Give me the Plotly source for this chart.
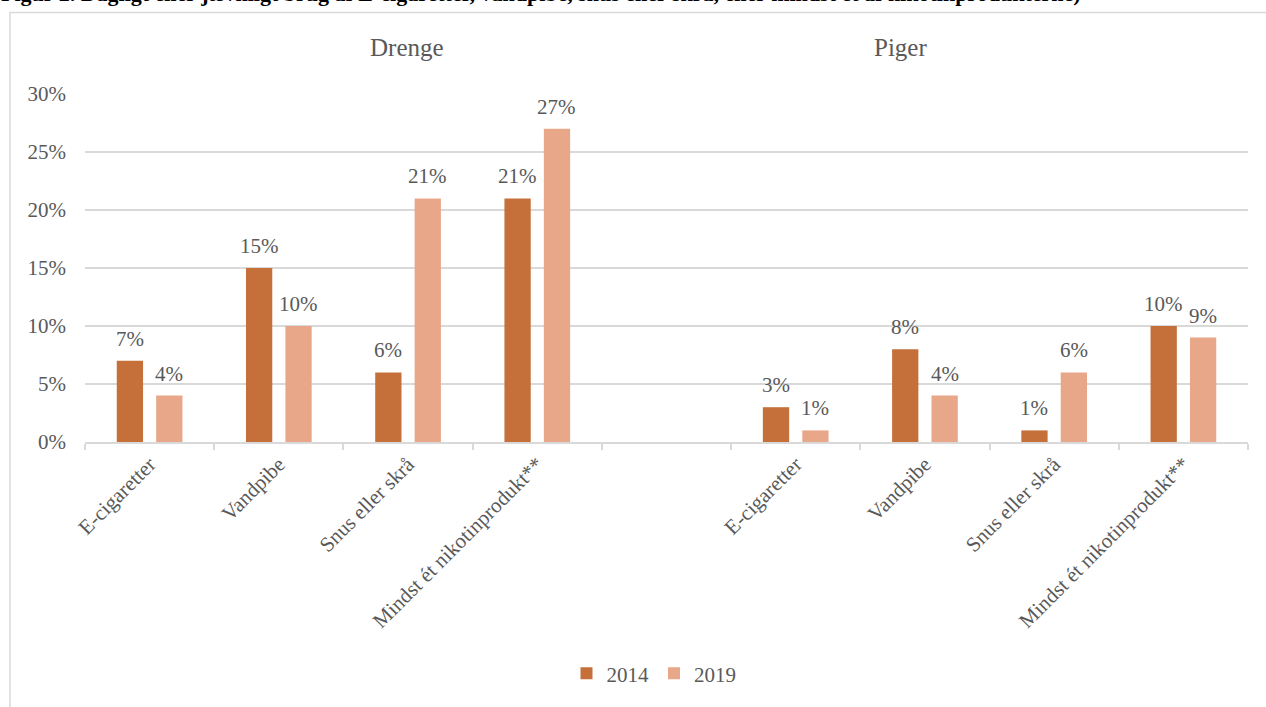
import plotly.graph_objects as go

# ---- data ----
groups = ["Drenge", "Piger"]
products = ["E-cigaretter", "Vandpibe", "Snus eller skrå", "Mindst ét nikotinprodukt**"]
years = ["2014", "2019"]
drenge_2014 = [7, 15, 6, 21]
drenge_2019 = [4, 10, 21, 27]
piger_2014 = [3, 8, 1, 10]
piger_2019 = [1, 4, 6, 9]
y_ticks = [0, 5, 10, 15, 20, 25, 30]
title_text = ("Figur 2. Dagligt eller jævnligt brug af E-cigaretter, vandpibe, snus eller skrå, "
              "eller mindst ét af nikotinprodukterne)")

# ---- layout constants (body margin removed below, so page px == figure px) ----
W, H = 1266, 707
ML, MT = 85, 94
MR = W - 1248
MB = H - 444
PW, PH = W - ML - MR, H - MT - MB
FONT = "Liberation Serif, Times New Roman, serif"
GREY = "#595959"
LINE = "#D9D9D9"
TXT = 21
colors = {"2014": "#C5703A", "2019": "#E9A78A"}


def px_x(p):
    return (p - ML) / PW


def px_y(p):
    return (H - MB - p) / PH


# positions: 4 Drenge categories, one empty gap, 4 Piger categories
x_pos = list(range(len(products))) + [len(products) + 1 + i for i in range(len(products))]
tick_text = products + products
values = {"2014": drenge_2014 + piger_2014, "2019": drenge_2019 + piger_2019}

fig = go.Figure()
for yr in years:
    fig.add_trace(go.Bar(
        x=x_pos, y=values[yr], name=yr,
        marker=dict(color=colors[yr], line=dict(width=0)),
        hoverinfo="skip",
    ))

annotations = []
bar_offset = {"2014": -19.7, "2019": 19.7}
for yr in years:
    for xp, v in zip(x_pos, values[yr]):
        annotations.append(dict(
            x=xp, y=v, xref="x", yref="y", text=f"{v}%", showarrow=False,
            xshift=bar_offset[yr], yanchor="bottom", yshift=8,
            font=dict(family=FONT, size=TXT, color=GREY),
        ))

# group headers
annotations.append(dict(x=px_x(407), y=px_y(47), xref="paper", yref="paper", text=groups[0],
                        showarrow=False, xanchor="center", yanchor="middle",
                        font=dict(family=FONT, size=25, color=GREY)))
annotations.append(dict(x=px_x(900), y=px_y(47), xref="paper", yref="paper", text=groups[1],
                        showarrow=False, xanchor="center", yanchor="middle",
                        font=dict(family=FONT, size=25, color=GREY)))
# title (partially cut at top of the page, as in the source)
annotations.append(dict(x=px_x(-1), y=px_y(8), xref="paper", yref="paper", text=f"<b>{title_text}</b>",
                        showarrow=False, xanchor="left", yanchor="bottom",
                        font=dict(family=FONT, size=22, color="black")))

fig.update_layout(
    width=W, height=H,
    margin=dict(l=ML, r=MR, t=MT, b=MB),
    paper_bgcolor="white", plot_bgcolor="white",
    barmode="group", bargap=0.39, bargroupgap=0.333,
    font=dict(family=FONT, size=TXT, color=GREY),
    showlegend=True,
    legend=dict(orientation="h", x=px_x(654), xanchor="center", y=px_y(677), yanchor="middle",
                font=dict(family=FONT, size=TXT, color=GREY), itemwidth=30,
                bgcolor="rgba(0,0,0,0)"),
    annotations=annotations,
    shapes=[dict(type="rect", xref="paper", yref="paper",
                 x0=px_x(10), x1=px_x(1400), y0=px_y(800), y1=px_y(12),
                 line=dict(color=LINE, width=1.5), fillcolor="rgba(0,0,0,0)", layer="below")],
)

fig.update_xaxes(
    range=[-0.5, len(x_pos) + 0.5], tickmode="array", tickvals=x_pos, ticktext=tick_text,
    tickangle=-45, ticks="", showgrid=False, zeroline=False,
    showline=True, linecolor=LINE, linewidth=1.5,
    tickfont=dict(family=FONT, size=TXT, color=GREY),
    minor=dict(tickmode="array", tickvals=[i - 0.5 for i in range(len(x_pos) + 2)],
               ticks="outside", ticklen=6, tickcolor=LINE, tickwidth=1.5, showgrid=False),
)
fig.update_yaxes(
    range=[0, 30], tickmode="array", tickvals=y_ticks, ticktext=[f"{t}%" for t in y_ticks],
    showgrid=True, gridcolor=LINE, gridwidth=1.5, zeroline=False, showline=False,
    ticks="", ticklabelstandoff=18,
    tickfont=dict(family=FONT, size=TXT, color=GREY),
)

fig.write_html("out.html", config={"displayModeBar": False},
               post_script="document.body.style.margin='0';document.body.style.overflow='hidden';")
